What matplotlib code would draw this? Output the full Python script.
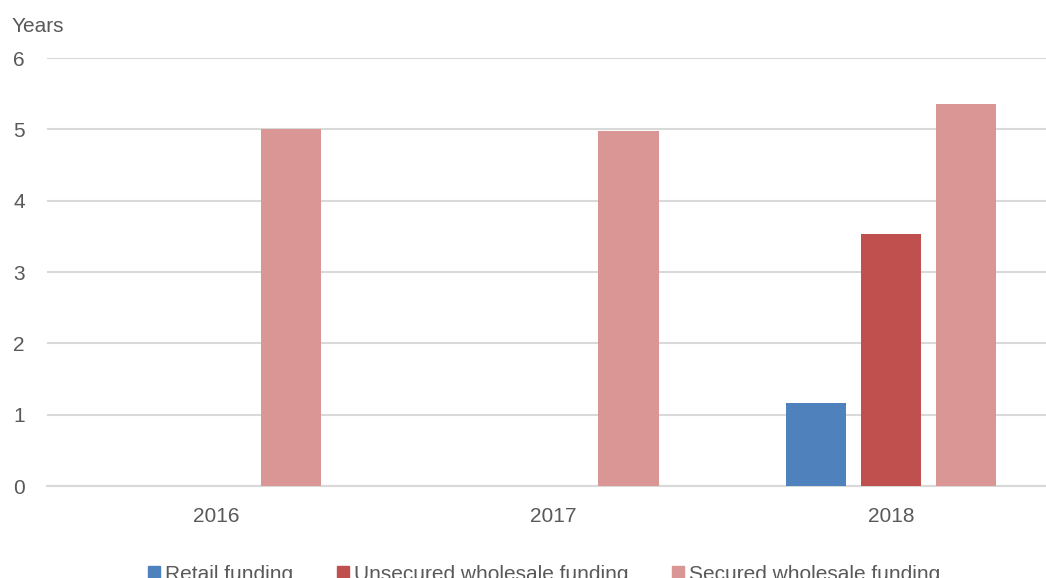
import matplotlib
matplotlib.use("Agg")
import matplotlib.pyplot as plt
import numpy as np
from matplotlib.patches import Patch

categories = ["2016", "2017", "2018"]
series_names = ["Retail funding", "Unsecured wholesale funding", "Secured wholesale funding"]
retail = [np.nan, np.nan, 1.16]
unsecured = [np.nan, np.nan, 3.53]
secured = [5.01, 4.98, 5.36]
yticks = [0, 1, 2, 3, 4, 5, 6]

colors = ["#4F81BD", "#C0504D", "#D99694"]
FONT = ["Liberation Sans", "DejaVu Sans"]
TXT = "#595959"
FS = 15

W, H = 1046, 578
fig = plt.figure(figsize=(W / 100, H / 100), dpi=100)
left_px, right_px, top_px, bot_px = 47, 1060, 58, 486
ax = fig.add_axes([left_px / W, 1 - bot_px / H, (right_px - left_px) / W, (bot_px - top_px) / H])

x = np.arange(len(categories))
bw = 0.178
step = 0.222
for i, (vals, c) in enumerate(zip([retail, unsecured, secured], colors)):
    ax.bar(x + (i - 1) * step, vals, width=bw, color=c, label=series_names[i], zorder=3)

ax.set_xlim(-0.5, 2.5)
ax.set_ylim(0, 6)
ax.set_yticks(yticks)
ax.set_yticklabels([str(v) for v in yticks], fontsize=FS, color=TXT, family=FONT)
ax.set_xticks(x)
ax.set_xticklabels(categories, fontsize=FS, color=TXT, family=FONT)
ax.tick_params(axis="both", length=0)
ax.tick_params(axis="y", pad=16)
ax.tick_params(axis="x", pad=15)
ax.grid(axis="y", color="#D9D9D9", linewidth=1.5, zorder=0)
for s in ["top", "right", "left"]:
    ax.spines[s].set_visible(False)
ax.spines["bottom"].set_color("#D9D9D9")
ax.spines["bottom"].set_linewidth(1.5)

fig.text(12 / W, 1 - 32 / H, "Years", fontsize=FS, color=TXT, family=FONT, va="baseline", ha="left")

handles = [Patch(color=c) for c in colors]
leg = fig.legend(handles, series_names, loc="center", bbox_to_anchor=(544 / W, 1 - 574 / H),
                 ncol=3, frameon=False, handlelength=0.57, handleheight=0.57, handletextpad=0.25,
                 columnspacing=2.1, borderaxespad=0, borderpad=0,
                 prop={"family": FONT, "size": FS})
for t in leg.get_texts():
    t.set_color(TXT)

fig.savefig("out.png", dpi=100)
